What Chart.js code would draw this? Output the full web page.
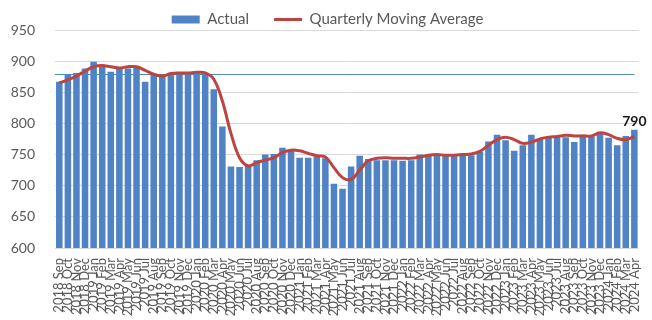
<!DOCTYPE html>
<html><head><meta charset="utf-8">
<script src="https://cdn.jsdelivr.net/npm/chart.js@4/dist/chart.umd.min.js"></script>
<style>html,body{margin:0;padding:0;background:#fff;overflow:hidden}#wrap{width:652px;height:320px;position:relative}</style>
</head><body><div id="wrap"><canvas id="c" width="652" height="320"></canvas></div>
<script>
const months = [
"2018 Sep","2018 Oct","2018 Nov","2018 Dec",
"2019 Jan","2019 Feb","2019 Mar","2019 Apr","2019 May","2019 Jun","2019 Jul","2019 Aug","2019 Sep","2019 Oct","2019 Nov","2019 Dec",
"2020 Jan","2020 Feb","2020 Mar","2020 Apr","2020 May","2020 Jun","2020 Jul","2020 Aug","2020 Sep","2020 Oct","2020 Nov","2020 Dec",
"2021 Jan","2021 Feb","2021 Mar","2021 Apr","2021 May","2021 Jun","2021 Jul","2021 Aug","2021 Sep","2021 Oct","2021 Nov","2021 Dec",
"2022 Jan","2022 Feb","2022 Mar","2022 Apr","2022 May","2022 Jun","2022 Jul","2022 Aug","2022 Sep","2022 Oct","2022 Nov","2022 Dec",
"2023 Jan","2023 Feb","2023 Mar","2023 Apr","2023 May","2023 Jun","2023 Jul","2023 Aug","2023 Sep","2023 Oct","2023 Nov","2023 Dec",
"2024 Jan","2024 Feb","2024 Mar","2024 Apr"];

const actual = [
867,878,881,888,
899,894,883,888,888,889,867,878,876,881,881,881,
881,881,855,795,731,730,733,741,750,751,761,757,
745,745,746,744,703,695,731,748,743,741,741,741,
740,741,750,750,750,749,749,749,749,754,771,782,
773,756,765,782,774,777,777,778,770,782,779,786,
777,765,780,790];

const movingAvg = [
865,870,876,884,
891,893,891,889,891,891,885,879,876,880,881,881,
882,881,871,836,784,745,732,737,741,745,753,757,
756,752,748,746,729,713,710,725,740,744,745,744,
744,744,746,749,750,749,749,750,751,755,765,774,
778,774,768,770,775,778,779,781,780,780,780,785,
782,776,774,779];

const referenceLevel = [880];
const yTickValues = [600,650,700,750,800,850,900,950];
const seriesNames = ["Actual","Quarterly Moving Average"];

const FONT = "Lato, 'Liberation Sans', sans-serif";
const GREY = "#595959";
const BAR = "#4f83c6";
const RED = "#bd4441";

const legendFix = {
  id: 'legendFix',
  beforeInit(chart) {
    const lg = chart.legend;
    if (!lg) return;
    const of = lg.fit;
    lg.fit = function() { of.call(this); this.height = 30; };
    const od = lg._draw;
    lg._draw = function() { const c = this.ctx; c.save(); c.translate(0, -13); od.call(this); c.restore(); };
  }
};

const refLine = {
  id: 'refLine',
  beforeDatasetDraw(chart, args) {
    if (args.index !== 1) return;
    const y = chart.scales.y.getPixelForValue(referenceLevel[0]);
    const a = chart.chartArea;
    const c = chart.ctx;
    c.save();
    c.strokeStyle = '#4f8cbd';
    c.lineWidth = 1;
    c.beginPath();
    c.moveTo(a.left, Math.round(y) + 0.5);
    c.lineTo(a.right - 4, Math.round(y) + 0.5);
    c.stroke();
    c.restore();
  }
};

const lastLabel = {
  id: 'lastLabel',
  afterDatasetsDraw(chart) {
    const meta = chart.getDatasetMeta(0);
    const i = actual.length - 1;
    const el = meta.data[i];
    const c = chart.ctx;
    c.save();
    c.font = "bold 14px " + FONT;
    c.fillStyle = '#1a1a1a';
    c.textAlign = 'center';
    c.textBaseline = 'bottom';
    c.fillText(String(actual[i]), el.x, el.y - 1);
    c.restore();
  }
};

new Chart(document.getElementById('c'), {
  data: {
    labels: months,
    datasets: [
      { type: 'bar', label: seriesNames[0], data: actual, backgroundColor: BAR,
        borderWidth: 0, order: 2, categoryPercentage: 1.0, barPercentage: 0.76 },
      { type: 'line', label: seriesNames[1], data: movingAvg, borderColor: RED,
        backgroundColor: RED, borderWidth: 3, pointRadius: 0, tension: 0.4,
        order: 1, fill: false }
    ]
  },
  options: {
    responsive: false,
    animation: false,
    devicePixelRatio: 1,
    layout: { padding: { left: 10, right: 7, top: 0, bottom: 0 } },
    plugins: {
      tooltip: { enabled: false },
      legend: {
        position: 'top',
        labels: {
          usePointStyle: true, pointStyleWidth: 28, boxHeight: 8, padding: 25,
          color: GREY, font: { family: FONT, size: 15 },
          generateLabels(chart) {
            const items = Chart.defaults.plugins.legend.labels.generateLabels(chart);
            items.sort((a, b) => a.datasetIndex - b.datasetIndex);
            items.forEach(it => {
              if (it.datasetIndex === 0) { it.pointStyle = 'rect'; it.lineWidth = 0; it.fillStyle = BAR; it.strokeStyle = BAR; }
              else { it.pointStyle = 'line'; it.lineWidth = 3; it.strokeStyle = RED; }
            });
            return items;
          }
        }
      }
    },
    scales: {
      x: {
        offset: true,
        grid: { display: false },
        border: { display: false },
        ticks: { autoSkip: false, maxRotation: 90, minRotation: 90, padding: 2,
                 color: GREY, font: { family: FONT, size: 13 } },
        afterFit(s) { s.height = 72; }
      },
      y: {
        min: 600, max: 950,
        afterBuildTicks(s) { s.ticks = yTickValues.map(v => ({ value: v })); },
        grid: { color: '#d9d9d9', lineWidth: 1, drawTicks: false },
        border: { display: false },
        ticks: { padding: 20, color: GREY, font: { family: FONT, size: 14 } },
        afterFit(s) { s.width = 45; }
      }
    }
  },
  plugins: [legendFix, refLine, lastLabel]
});
</script>
</body></html>
